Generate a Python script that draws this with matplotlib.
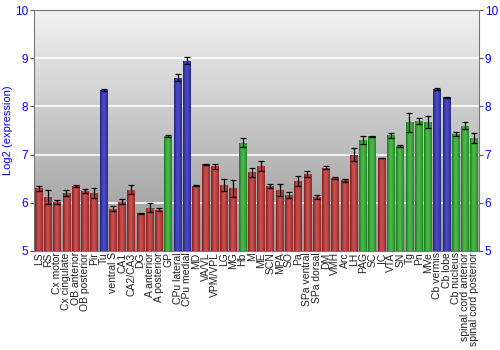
import numpy as np
import matplotlib
matplotlib.use("Agg")
import matplotlib.pyplot as plt
from matplotlib.colors import LinearSegmentedColormap

plt.rcParams['font.family'] = ['Liberation Sans', 'DejaVu Sans']

regions = ["LS", "RS", "Cx motor", "Cx cingulate", "OB anterior", "OB posterior", "Pir", "Tu",
           "ventral S", "CA1", "CA2/CA3", "DG", "A anterior", "A posterior", "GP", "CPu lateral",
           "CPu medial", "MD", "VA/VL", "VPM/VPL", "LG", "MG", "Hb", "M", "ME", "SCN", "MPA",
           "SO", "Pa", "SPa ventral", "SPa dorsal", "DM", "VMH", "Arc", "LH", "PAG", "SC", "IC",
           "VTA", "SN", "Tg", "Pn", "MVe", "Cb vermis", "Cb lobe", "Cb nucleus",
           "spinal cord anterior", "spinal cord posterior"]
expression = [6.30, 6.12, 6.02, 6.20, 6.35, 6.25, 6.20, 8.35,
              5.88, 6.02, 6.27, 5.78, 5.90, 5.86, 7.38, 8.60,
              8.95, 6.35, 6.80, 6.76, 6.37, 6.30, 7.25, 6.63, 6.76, 6.34, 6.27,
              6.16, 6.45, 6.60, 6.12, 6.73, 6.52, 6.47, 7.00, 7.31, 7.38, 6.93,
              7.40, 7.18, 7.67, 7.70, 7.68, 8.37, 8.19, 7.43,
              7.60, 7.34]
errors = [0.05, 0.15, 0.04, 0.06, 0.02, 0.04, 0.10, 0.02,
          0.06, 0.05, 0.09, 0.01, 0.10, 0.04, 0.02, 0.07,
          0.07, 0.01, 0.01, 0.05, 0.13, 0.17, 0.10, 0.09, 0.10, 0.04, 0.13,
          0.07, 0.10, 0.07, 0.04, 0.03, 0.02, 0.03, 0.13, 0.08, 0.01, 0.01,
          0.05, 0.03, 0.20, 0.07, 0.13, 0.02, 0.01, 0.05,
          0.07, 0.10]
blue_regions = ["Tu", "CPu lateral", "CPu medial", "Cb vermis", "Cb lobe"]
green_regions = ["GP", "Hb", "PAG", "SC", "VTA", "SN", "Tg", "Pn", "MVe", "Cb nucleus",
                 "spinal cord anterior", "spinal cord posterior"]

# dark / light shades for the bar gradients
shades = {
    "red": ("#8a2020", "#c85050"),
    "blue": ("#25257f", "#4a4ac8"),
    "green": ("#1f7f1f", "#4cb84c"),
}

fig = plt.figure(figsize=(5, 3.5), dpi=100)
ax = fig.add_axes([0.068, 0.283, 0.89, 0.688])

x = np.arange(len(regions))
ax.set_xlim(-0.5, len(regions) - 0.5)
ax.set_ylim(5, 10)

# background gradient
bg = np.linspace(0, 1, 256).reshape(-1, 1)
bg_cmap = LinearSegmentedColormap.from_list("bg", ["#f2f2f2", "#969696"])
ax.imshow(bg, cmap=bg_cmap, aspect="auto", extent=[0, 1, 0, 1], transform=ax.transAxes,
          zorder=0, interpolation="bicubic")

for v in [6, 7, 8, 9]:
    ax.axhline(v, color="white", lw=1.2, zorder=1)

grad = np.array([[0.0, 0.55, 0.9, 1.0, 0.85, 0.6, 0.2]])
for i, (name, val) in enumerate(zip(regions, expression)):
    if name in blue_regions:
        c = "blue"
    elif name in green_regions:
        c = "green"
    else:
        c = "red"
    cm = LinearSegmentedColormap.from_list(c, shades[c])
    bar = ax.bar(x[i], val - 5, bottom=5, width=0.85, color=shades[c][1], zorder=2,
                 edgecolor="none")[0]
    im = ax.imshow(grad, cmap=cm, aspect="auto", interpolation="bicubic",
                   extent=[x[i] - 0.425, x[i] + 0.425, 5, val], zorder=3)
    im.set_clip_path(bar)

ax.errorbar(x, expression, yerr=errors, fmt="none", ecolor="black", elinewidth=0.9,
            capsize=2, capthick=0.9, zorder=4)
ax.set_aspect("auto")

ax.set_xticks(x)
ax.set_xticklabels(regions, rotation=90, fontsize=7.5, color="#222222")
ax.tick_params(axis="x", length=0, pad=1)
ax.set_yticks([5, 6, 7, 8, 9, 10])
ax.tick_params(axis="y", colors="#555555", labelcolor="blue", labelsize=8.5, length=3,
               left=True, right=True, labelleft=True, labelright=True, pad=1)
ax.set_ylabel("Log2 (expression)", color="blue", fontsize=8)
ax.yaxis.set_label_coords(-0.048, 0.5)

for side in ["top", "left", "right", "bottom"]:
    ax.spines[side].set_color("#777777")
    ax.spines[side].set_linewidth(0.8)

fig.savefig("out.png", dpi=100)
